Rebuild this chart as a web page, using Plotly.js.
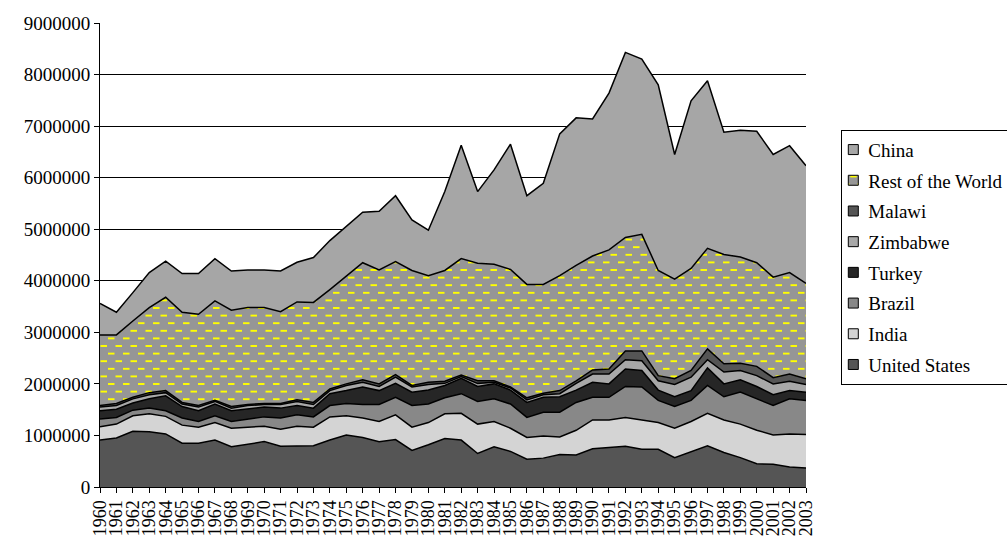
<!DOCTYPE html>
<html>
<head>
<meta charset="utf-8">
<script src="https://cdn.plot.ly/plotly-3.0.1.min.js"></script>
<style>
html,body{margin:0;padding:0;background:#fff;}
#chart{width:1007px;height:540px;}
</style>
</head>
<body>
<div id="chart"></div>
<script>
const years = ['1960','1961','1962','1963','1964','1965','1966','1967','1968','1969',
  '1970','1971','1972','1973','1974','1975','1976','1977','1978','1979',
  '1980','1981','1982','1983','1984','1985','1986','1987','1988','1989',
  '1990','1991','1992','1993','1994','1995','1996','1997','1998','1999',
  '2000','2001','2002','2003'];

const unitedStates = [910000,950000,1080000,1070000,1030000,850000,850000,910000,780000,830000,
  880000,790000,800000,800000,910000,1010000,960000,880000,920000,710000,
  820000,940000,910000,650000,780000,690000,540000,560000,630000,620000,
  740000,770000,790000,730000,730000,570000,690000,800000,670000,570000,
  450000,440000,390000,370000];
const india = [260000,270000,300000,350000,340000,350000,310000,340000,360000,330000,
  300000,330000,380000,360000,450000,370000,380000,390000,480000,450000,
  430000,480000,520000,570000,490000,450000,420000,430000,340000,480000,
  560000,530000,560000,570000,520000,570000,580000,630000,630000,650000,
  650000,570000,640000,650000];
const brazil = [150000,130000,110000,110000,110000,140000,110000,130000,130000,160000,
  180000,220000,220000,200000,220000,240000,260000,330000,340000,420000,
  360000,310000,380000,440000,440000,470000,390000,460000,480000,540000,
  440000,440000,600000,640000,430000,420000,410000,540000,450000,620000,
  610000,570000,680000,660000];
const turkey = [160000,160000,140000,180000,290000,220000,210000,230000,210000,190000,
  190000,190000,180000,170000,230000,250000,340000,270000,270000,260000,
  270000,240000,300000,290000,290000,270000,290000,290000,300000,240000,
  290000,260000,340000,320000,200000,190000,190000,340000,250000,240000,
  240000,210000,160000,160000];
const zimbabwe = [70000,70000,80000,80000,60000,50000,70000,50000,50000,70000,
  50000,70000,80000,70000,60000,100000,90000,80000,120000,100000,
  110000,40000,30000,60000,30000,40000,50000,50000,60000,130000,
  160000,190000,180000,190000,180000,240000,260000,160000,230000,180000,
  210000,210000,180000,150000];
const malawi = [30000,40000,30000,40000,40000,30000,30000,20000,30000,20000,
  20000,20000,30000,40000,30000,30000,50000,50000,50000,30000,
  40000,40000,30000,50000,30000,20000,40000,30000,60000,50000,
  80000,100000,170000,190000,100000,110000,130000,210000,160000,140000,
  180000,120000,140000,110000];
const restOfWorld = [1370000,1330000,1480000,1650000,1810000,1750000,1770000,1930000,1870000,1880000,
  1860000,1780000,1900000,1940000,1930000,2090000,2270000,2210000,2190000,2230000,
  2070000,2150000,2260000,2280000,2260000,2280000,2200000,2110000,2230000,2240000,
  2210000,2310000,2200000,2260000,2040000,1930000,1980000,1950000,2120000,2060000,
  2010000,1950000,1970000,1850000];
const china = [610000,440000,550000,680000,700000,750000,790000,820000,760000,730000,
  730000,790000,770000,870000,950000,970000,980000,1140000,1280000,980000,
  880000,1530000,2200000,1390000,1830000,2430000,1720000,1960000,2750000,2860000,
  2660000,3040000,3590000,3400000,3600000,2420000,3250000,3250000,2370000,2460000,
  2550000,2380000,2460000,2280000];

const seriesNames = ['United States','India','Brazil','Turkey','Zimbabwe','Malawi','Rest of the World','China'];
const seriesValues = [unitedStates, india, brazil, turkey, zimbabwe, malawi, restOfWorld, china];
const seriesColors = ['#555555','#d4d4d4','#888888','#262626','#a8a8a8','#555555','#969696','#a6a6a6'];

const traces = seriesNames.map((name, i) => {
  const t = {
    type: 'scatter',
    mode: 'lines',
    name: name,
    x: years,
    y: seriesValues[i],
    stackgroup: 'one',
    legendgroup: 'g' + i,
    legendrank: 1000 - i * 10,
    line: {color: '#000000', width: 1.5},
    fillcolor: seriesColors[i],
    hoverinfo: 'skip'
  };
  if (name === 'Rest of the World') {
    t.fillpattern = {shape: '-', bgcolor: '#969696', fgcolor: '#ffff00', size: 8, solidity: 0.25};
  }
  return t;
});

const serif = 'Liberation Serif, Times New Roman, serif';

const layout = {
  width: 1007,
  height: 540,
  margin: {l: 100, r: 201, t: 23, b: 53, autoexpand: false},
  paper_bgcolor: '#ffffff',
  plot_bgcolor: '#ffffff',
  showlegend: true,
  legend: {
    x: 1.05, xanchor: 'left',
    y: 0.77, yanchor: 'top',
    traceorder: 'grouped',
    tracegroupgap: 3,
    bgcolor: '#ffffff',
    bordercolor: '#000000',
    borderwidth: 1,
    font: {family: serif, size: 19, color: '#000000'}
  },
  xaxis: {
    type: 'category',
    range: [0, 43],
    tickmode: 'linear',
    tick0: 0,
    dtick: 1,
    showgrid: false,
    showline: true,
    linecolor: '#000000',
    linewidth: 1,
    ticks: 'outside',
    ticklen: 5,
    tickcolor: '#000000',
    tickangle: -90,
    tickfont: {family: serif, size: 18, color: '#000000'},
    automargin: false,
    fixedrange: true
  },
  yaxis: {
    range: [0, 9000000],
    dtick: 1000000,
    tick0: 0,
    tickformat: 'd',
    showgrid: true,
    gridcolor: '#000000',
    gridwidth: 1,
    zeroline: false,
    showline: true,
    linecolor: '#000000',
    linewidth: 1,
    ticks: 'outside',
    ticklen: 5,
    tickcolor: '#000000',
    tickfont: {family: serif, size: 19, color: '#000000'},
    automargin: false,
    fixedrange: true
  }
};

Plotly.newPlot('chart', traces, layout, {displayModeBar: false, staticPlot: true}).then(function(gd) {
  const ns = 'http://www.w3.org/2000/svg';
  // staggered short yellow dashes for "Rest of the World"
  gd.querySelectorAll('pattern').forEach(function(p) {
    p.setAttribute('width', '15');
    p.setAttribute('height', '15.2');
    p.setAttribute('patternUnits', 'userSpaceOnUse');
    while (p.firstChild) p.removeChild(p.firstChild);
    const r = document.createElementNS(ns, 'rect');
    r.setAttribute('width', '15'); r.setAttribute('height', '15.2');
    r.setAttribute('fill', '#969696');
    p.appendChild(r);
    const path = document.createElementNS(ns, 'path');
    path.setAttribute('d', 'M0.5,3.8h6.5M8,11.4h6.5');
    path.setAttribute('stroke', '#ffff00');
    path.setAttribute('stroke-width', '2');
    path.setAttribute('fill', 'none');
    p.appendChild(path);
  });
  // small square legend keys like the original
  gd.querySelectorAll('.legend .traces').forEach(function(g) {
    const txt = g.querySelector('text.legendtext');
    if (txt) txt.setAttribute('x', '26');
    g.querySelectorAll('.legendfill path').forEach(function(p) {
      p.setAttribute('d', 'M6,-5h10v10h-10z');
      p.style.stroke = '#000000';
      p.style.strokeWidth = '1px';
    });
    g.querySelectorAll('.legendlines path').forEach(function(p) { p.style.display = 'none'; });
  });
});
</script>
</body>
</html>
